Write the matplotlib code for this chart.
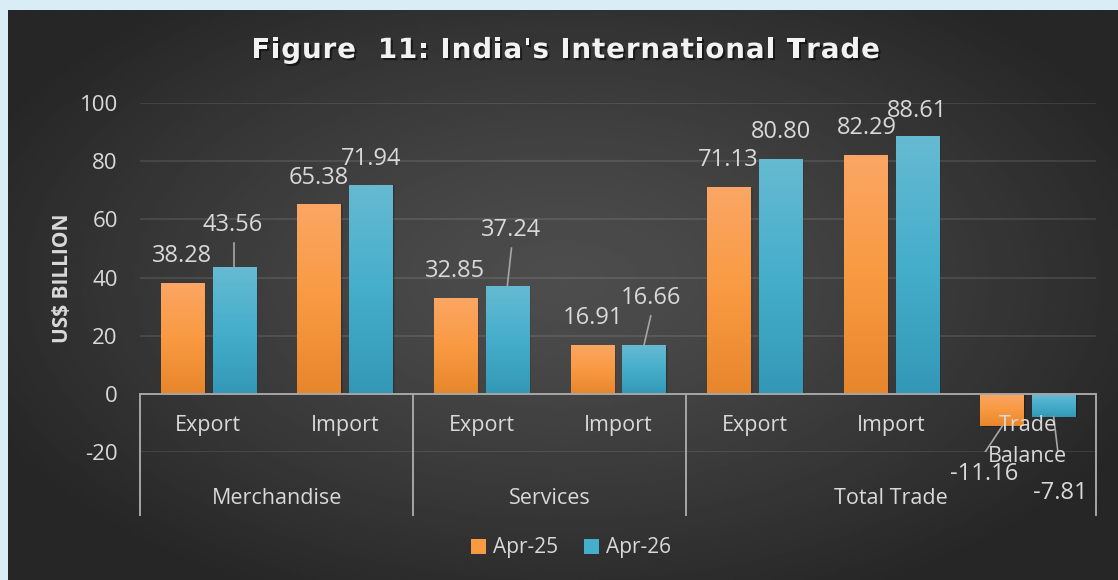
import matplotlib
matplotlib.use("Agg")
import matplotlib.pyplot as plt
import matplotlib.patheffects as pe
import numpy as np
from matplotlib.colors import LinearSegmentedColormap
from matplotlib.transforms import blended_transform_factory
from matplotlib.patches import Rectangle
from matplotlib.font_manager import FontProperties

plt.rcParams["axes.unicode_minus"] = False

# Data
sub_labels = ["Export", "Import", "Export", "Import", "Export", "Import", "Trade\nBalance"]
groups = ["Merchandise", "Services", "Total Trade"]
group_spans = [(0, 2), (2, 4), (4, 7)]
apr25 = [38.28, 65.38, 32.85, 16.91, 71.13, 82.29, -11.16]
apr26 = [43.56, 71.94, 37.24, 16.66, 80.80, 88.61, -7.81]
series_names = ["Apr-25", "Apr-26"]

# label placement (x offset from category, y in data units) as in the source
lab25 = [(-0.19, 47.3), (-0.19, 74.1), (-0.19, 42.2), (-0.18, 26.1),
         (-0.19, 80.3), (-0.18, 91.3), (-0.32, -27.4)]
lab26 = [(0.18, 58.0), (0.19, 80.6), (0.22, 56.3), (0.24, 32.9),
         (0.19, 89.9), (0.19, 97.4), (0.24, -34.0)]
# leader lines: (x0, y0, x1, y1) relative to category
lead25 = {6: (-0.185, -11.0, -0.32, -20.6)}
lead26 = {0: (0.19, 43.56, 0.19, 51.8), 2: (0.19, 37.24, 0.22, 50.1),
          3: (0.19, 16.66, 0.24, 26.8), 6: (0.19, -7.81, 0.24, -27.4)}

W, H = 1118, 580
FONT = "Open Sans"
TXT = "#d9d9d9"

fig = plt.figure(figsize=(W / 100, H / 100), dpi=100, facecolor="#d9edf6")

# dark panel with radial gradient
bg = fig.add_axes([8 / W, 0, 1 - 8 / W, 1 - 10 / H])
bg.axis("off")
gx, gy = np.meshgrid(np.linspace(-1, 1, 400), np.linspace(-1, 1, 220))
r = np.sqrt((gx / 1.15) ** 2 + ((gy + 0.05) / 1.25) ** 2)
r = np.clip(r, 0, 1)
val = 0x4d - (0x4d - 0x26) * r ** 1.3
bg.imshow(val, cmap="gray", vmin=0, vmax=255, aspect="auto", extent=[0, 1, 0, 1])
bg.set_zorder(-5)

# main axes
ax = fig.add_axes([140 / W, 1 - 452 / H, (1096 - 140) / W, (452 - 103) / H])
ax.patch.set_alpha(0)
for s in ax.spines.values():
    s.set_visible(False)
x = np.arange(len(sub_labels))
ax.set_yticks(range(-20, 101, 20))
ax.set_xticks([])
ax.tick_params(axis="y", length=0, pad=16, labelsize=16, labelcolor=TXT)
for t in ax.get_yticklabels():
    t.set_fontfamily(FONT)
for v in range(-20, 101, 20):
    if v != 0:
        ax.axhline(v, color="white", alpha=0.11, lw=1.3, zorder=0)

bw = 0.315
off = 0.19
cmap25 = LinearSegmentedColormap.from_list("o", ["#fba664", "#f99a42", "#e8862c"])
cmap26 = LinearSegmentedColormap.from_list("t", ["#66bad2", "#45aecb", "#3398b7"])
grad = np.linspace(0, 1, 100).reshape(-1, 1)

bars = []
for vals, sign, cmap, color, name in [(apr25, -1, cmap25, "#f99a42", series_names[0]),
                                      (apr26, 1, cmap26, "#45aecb", series_names[1])]:
    bc = ax.bar(x + sign * off, vals, bw, color=color, zorder=3, label=name)
    bars.append(bc)
    for p, v in zip(bc.patches, vals):
        x0 = p.get_x()
        # soft shadow
        for k, a in [(0.035, 0.10), (0.02, 0.15)]:
            sh = Rectangle((x0 + k * 0.5, min(0, v) - k * 8), bw, abs(v), color="black",
                           alpha=a, zorder=2, lw=0)
            ax.add_patch(sh)
        im = ax.imshow(grad, cmap=cmap, aspect="auto", origin="upper",
                       extent=[x0, x0 + bw, min(0, v), max(0, v)], zorder=3.5)
        im.set_clip_path(p)
ax.set_xlim(-0.5, len(sub_labels) - 0.5)
ax.set_ylim(-20, 100)

# zero axis line
ax.axhline(0, color="#a6a6a6", lw=1.4, zorder=4)

# data labels
for vals, labs, leads in [(apr25, lab25, lead25), (apr26, lab26, lead26)]:
    for i, (v, (dx, ly)) in enumerate(zip(vals, labs)):
        ax.text(i + dx, ly, f"{v:.2f}", ha="center", va="center", color=TXT,
                fontsize=17, family=FONT, zorder=6)
        if i in leads:
            a0, b0, a1, b1 = leads[i]
            ax.plot([i + a0, i + a1], [b0, b1], color="#a6a6a6", lw=1.2, zorder=5)

# multi-level category axis
tr = blended_transform_factory(ax.transData, fig.transFigure)
for i, lab in enumerate(sub_labels):
    ax.text(i, 1 - 415 / H, lab, transform=tr, ha="center", va="top", color=TXT,
            fontsize=15.5, family=FONT, linespacing=1.6, zorder=6)
for g, (a, b) in zip(groups, group_spans):
    ax.text((a + b - 1) / 2, 1 - 498 / H, g, transform=tr, ha="center", va="center",
            color=TXT, fontsize=15.5, family=FONT)
for xb in [-0.5, 1.5, 3.5, 6.5]:
    ax.plot([xb, xb], [1 - 394 / H, 1 - 515 / H], transform=tr, color="#a6a6a6",
            lw=1.4, clip_on=False, zorder=4)

# y label
fig.text(63 / W, 1 - 278 / H, "US$ BILLION", rotation=90, ha="center", va="center",
         color=TXT, fontsize=15, fontweight="bold", family=FONT)

# title with letter spacing
title = "Figure  11: India's International Trade"
tprop = FontProperties(family="DejaVu Sans", weight="bold", size=20)
fig.canvas.draw()
ren = fig.canvas.get_renderer()
widths = []
for ch in title:
    if ch == " ":
        w = ren.get_text_width_height_descent("a a", tprop, ismath=False)[0] - \
            ren.get_text_width_height_descent("aa", tprop, ismath=False)[0]
    else:
        w = ren.get_text_width_height_descent(ch, tprop, ismath=False)[0]
    widths.append(w)
target = 880 - 251
track = (target - sum(widths)) / (len(title) - 1)
xc = 251
shadow = [pe.withSimplePatchShadow(offset=(1.5, -1.5), shadow_rgbFace="black", alpha=0.5)]
for ch, w in zip(title, widths):
    if ch != " ":
        fig.text(xc / W, 1 - 50 / H, ch, fontproperties=tprop, color="#f2f2f2",
                 va="center", ha="left", path_effects=shadow)
    xc += w + track

# legend
fig.legend(handles=bars, labels=series_names, loc="center",
           bbox_to_anchor=(571 / W, 1 - 548 / H), ncol=2, frameon=False,
           handlelength=0.75, handleheight=0.75, handletextpad=0.35, columnspacing=1.2,
           prop={"family": FONT, "size": 15}, labelcolor=TXT)

fig.savefig("out.png", dpi=100, facecolor=fig.get_facecolor())
